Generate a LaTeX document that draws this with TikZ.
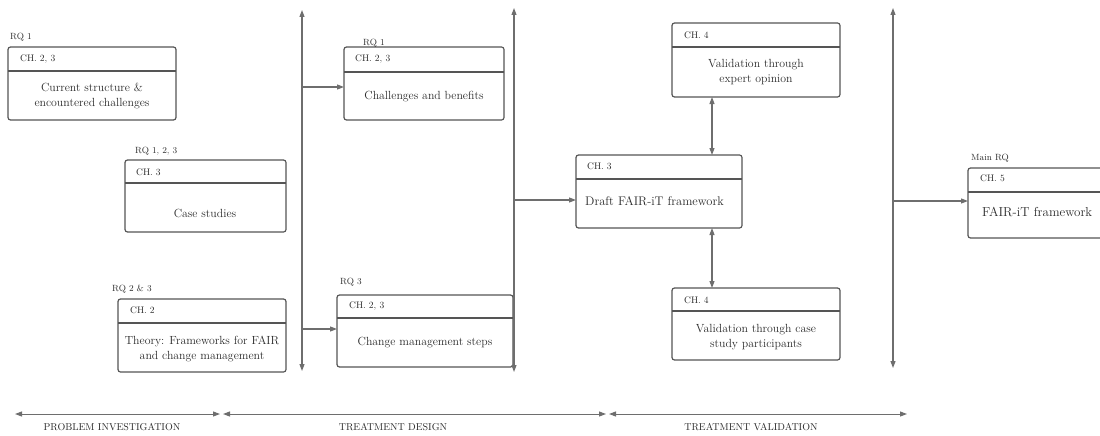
\documentclass[tikz,border=0pt]{standalone}
\usetikzlibrary{arrows.meta,calc}
\definecolor{linegray}{HTML}{6E6E6E}
\definecolor{boxgray}{HTML}{555555}
\definecolor{txtgray}{HTML}{2A2A2A}
\begin{document}
\begin{tikzpicture}[x=1pt,y=-1pt,
  box/.style={draw=boxgray,line width=1.2pt,rounded corners=2.5pt,inner sep=0pt,outer sep=0pt,anchor=north west},
  sepline/.style={draw=boxgray,line width=1.1pt},
  hdr/.style={anchor=west,inner sep=0pt,text=txtgray,font=\fontsize{9.5}{11}\selectfont},
  body/.style={align=center,inner sep=0pt,text=txtgray,font=\fontsize{11.8}{15}\selectfont},
  rq/.style={anchor=west,inner sep=0pt,text=txtgray,font=\fontsize{9}{10}\selectfont},
  phase/.style={inner sep=0pt,text=txtgray,font=\fontsize{10}{11}\selectfont},
  conn/.style={draw=linegray,line width=1.1pt},
  tip/.style={-{Triangle[length=7pt,width=5pt]}},
  tips/.style={{Triangle[length=7pt,width=5pt]}-{Triangle[length=7pt,width=5pt]}}
]
\useasboundingbox (0,0) rectangle (1100,436);

% boxes
\node[box,minimum width=168pt,minimum height=73pt] (A) at (8,47) {};
\node[box,minimum width=161pt,minimum height=72pt] (B) at (125,160) {};
\node[box,minimum width=168pt,minimum height=73pt] (C) at (118,299) {};
\node[box,minimum width=176pt,minimum height=72pt] (D) at (337,295) {};
\node[box,minimum width=160pt,minimum height=73pt] (E) at (344,47) {};
\node[box,minimum width=168pt,minimum height=74pt] (F) at (672,23) {};
\node[box,minimum width=166pt,minimum height=73pt] (G) at (576,155) {};
\node[box,minimum width=168pt,minimum height=72pt] (H) at (672,288) {};
\node[box,minimum width=150pt,minimum height=70pt] (I) at (968,168) {};

% header separators
\draw[sepline] ([yshift=-24pt]A.north west) -- ([yshift=-24pt]A.north east);
\draw[sepline] ([yshift=-23pt]B.north west) -- ([yshift=-23pt]B.north east);
\draw[sepline] ([yshift=-24pt]C.north west) -- ([yshift=-24pt]C.north east);
\draw[sepline] ([yshift=-23pt]D.north west) -- ([yshift=-23pt]D.north east);
\draw[sepline] ([yshift=-25pt]E.north west) -- ([yshift=-25pt]E.north east);
\draw[sepline] ([yshift=-24pt]F.north west) -- ([yshift=-24pt]F.north east);
\draw[sepline] ([yshift=-24pt]G.north west) -- ([yshift=-24pt]G.north east);
\draw[sepline] ([yshift=-23pt]H.north west) -- ([yshift=-23pt]H.north east);
\draw[sepline] ([yshift=-24pt]I.north west) -- ([yshift=-24pt]I.north east);

% header texts
\node[hdr] (Ah) at (20,59) {CH. 2, 3};
\node[hdr] (Bh) at (136,172) {CH. 3};
\node[hdr] (Ch) at (130,310) {CH. 2};
\node[hdr] (Dh) at (349,306) {CH. 2, 3};
\node[hdr] (Eh) at (355,59) {CH. 2, 3};
\node[hdr] (Fh) at (684,35) {CH. 4};
\node[hdr] (Gh) at (587,166) {CH. 3};
\node[hdr] (Hh) at (684,300) {CH. 4};
\node[hdr] (Ih) at (980,178) {CH. 5};

% body texts
\node[body] (Ab) at (92,96) {Current structure \&\\encountered challenges};
\node[body] (Bb) at (205,213) {Case studies};
\node[body] (Cb) at (202,349) {Theory: Frameworks for FAIR\\and change management};
\node[body] (Db) at (425,343) {Change management steps};
\node[body] (Eb) at (424,97) {Challenges and benefits};
\node[body] (Fb) at (756,72) {Validation through\\expert opinion};
\node[body,anchor=west,font=\fontsize{12.5}{14}\selectfont] (Gb) at (585,201) {Draft FAIR-iT framework};
\node[body,anchor=west,font=\fontsize{13}{14}\selectfont] (Ib) at (982,212) {FAIR-iT framework};
\node[body] (Hb) at (756,337) {Validation through case\\study participants};

% RQ labels
\node[rq] (Ar) at (10,37) {RQ 1};
\node[rq] (Br) at (135,151) {RQ 1, 2, 3};
\node[rq] (Cr) at (112,289) {RQ 2 \& 3};
\node[rq] (Dr) at (340,282) {RQ 3};
\node[rq] (Er) at (363,43) {RQ 1};
\node[rq] (Ir) at (971,158) {Main RQ};

% vertical phase separators
\coordinate (v1t) at (302,10);  \coordinate (v1b) at (302,371);
\coordinate (v2t) at (514,8);   \coordinate (v2b) at (514,372);
\coordinate (v3t) at (893,8);   \coordinate (v3b) at (893,368);
\draw[conn,tips] (v1t) -- (v1b);
\draw[conn,tips] (v2t) -- (v2b);
\draw[conn,tips] (v3t) -- (v3b);

% connectors
\coordinate (j1) at (302,87);
\coordinate (j2) at (302,329);
\coordinate (j3) at (514,200);
\coordinate (j4) at (893,201);
\draw[conn,tip] (j1) -- (j1 -| E.west);
\draw[conn,tip] (j2) -- (j2 -| D.west);
\draw[conn,tip] (j3) -- (j3 -| G.west);
\draw[conn,tip] (j4) -- (j4 -| I.west);
\coordinate (kx) at (712,0);
\draw[conn,tips] (kx |- F.south) -- (kx |- G.north);
\draw[conn,tips] (kx |- G.south) -- (kx |- H.north);

% phase arrows
\coordinate (p1a) at (15,414);  \coordinate (p1b) at (220,414);
\coordinate (p2a) at (223,414); \coordinate (p2b) at (606,414);
\coordinate (p3a) at (609,414); \coordinate (p3b) at (907,414);
\draw[conn,line width=1pt,tips] (p1a) -- (p1b);
\draw[conn,line width=1pt,tips] (p2a) -- (p2b);
\draw[conn,line width=1pt,tips] (p3a) -- (p3b);
\node[phase] (l1) at (112,427) {PROBLEM INVESTIGATION};
\node[phase] (l2) at (393,427) {TREATMENT DESIGN};
\node[phase] (l3) at (751,427) {TREATMENT VALIDATION};
\end{tikzpicture}
\end{document}
